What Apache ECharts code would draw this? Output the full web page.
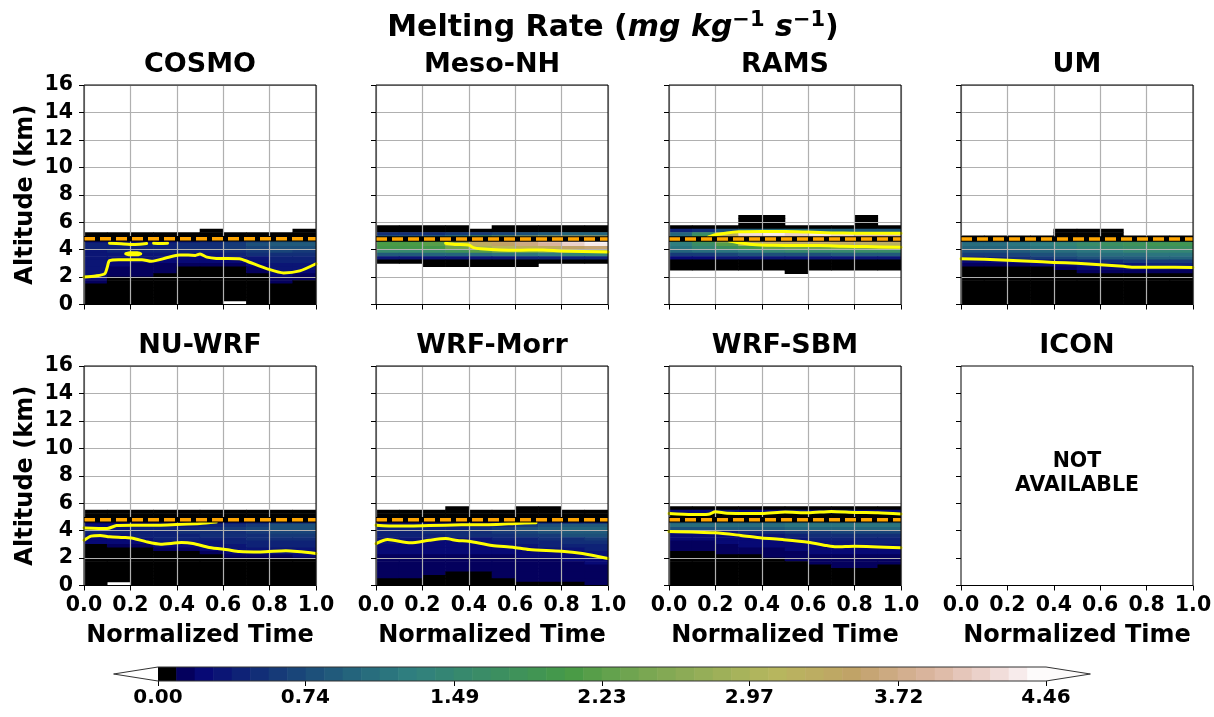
<!DOCTYPE html>
<html><head><meta charset="utf-8">
<script src="https://cdn.jsdelivr.net/npm/echarts@6/dist/echarts.min.js"></script>
<style>html,body{margin:0;padding:0;background:#fff}#c{width:1214px;height:717px}</style>
</head><body><div id="c"></div>
<script>
// ---------------- data ----------------
const models = ['COSMO','Meso-NH','RAMS','UM','NU-WRF','WRF-Morr','WRF-SBM','ICON'];
const xTickStep = 0.2, yTickStep = 2;
const cbarMax = 4.46, nLevels = 48;
const cbarTicks = [0.00, 0.74, 1.49, 2.23, 2.97, 3.72, 4.46];
const freezeLevel = [4.8, 4.78, 4.78, 4.78, 4.8, 4.8, 4.8];

// field cells: column centres (normalized time) and row bottoms (km), 0.1 x 0.25 km cells
const timeCols = [0.05,0.15,0.25,0.35,0.45,0.55,0.65,0.75,0.85,0.95];
const altRows = [6.25,6.0,5.75,5.5,5.25,5.0,4.75,4.5,4.25,4.0,3.75,3.5,3.25,3.0,2.75,2.5,2.25,2.0,1.75,1.5,1.25,1.0,0.75,0.5,0.25,0];
const cellW = 0.1, cellH = 0.25;
const N = null;
const NR = [N,N,N,N,N,N,N,N,N,N];
const ZR = [0,0,0,0,0,0,0,0,0,0];

const cosmoField = [
 NR, NR, NR, NR,
 [N,N,N,N,N,0,N,N,N,0],
 ZR, ZR,
 [0.2,0.2,0.2,0.25,0.35,0.45,0.55,0.65,0.75,0.75],
 [0.4,0.4,0.4,0.45,0.5,0.55,0.65,0.75,0.85,0.85],
 [0.4,0.4,0.45,0.45,0.5,0.55,0.6,0.7,0.8,0.8],
 [0.35,0.4,0.4,0.4,0.45,0.45,0.55,0.6,0.7,0.65],
 [0.35,0.35,0.35,0.35,0.32,0.32,0.4,0.5,0.55,0.55],
 [0.35,0.32,0.31,0.31,0.25,0.27,0.28,0.35,0.45,0.45],
 [0.32,0.25,0.22,0.22,0.2,0.2,0.22,0.3,0.4,0.4],
 [0.32,0.2,0.18,0.18,0.1,0.1,0.12,0.22,0.35,0.32],
 [0.32,0.15,0.15,0.15,0,0,0,0.12,0.33,0.3],
 [0.3,0.12,0.12,0.12,0,0,0,0.1,0.28,0.2],
 [0.32,0.1,0.1,0,0,0,0,0,0.2,0.15],
 [0.2,0,0,0,0,0,0,0,0.15,0.12],
 [0.15,0,0,0,0,0,0,0,0.1,0],
 ZR, ZR, ZR, ZR, ZR,
 [0,0,0,0,0,0,N,0,0,0]
];
const mesoField = [
 NR, NR, NR,
 [0,0,0,0,N,0,0,0,0,0],
 ZR,
 [0.5,0.5,0.5,0.6,0.6,0.7,0.8,0.9,1.0,1.0],
 [1.0,1.0,1.2,1.5,2.0,2.4,2.8,3.0,3.2,3.2],
 [2.0,2.0,2.2,2.6,3.5,3.6,3.8,4.0,4.2,4.4],
 [2.1,2.1,2.2,2.8,3.3,3.5,3.7,3.9,4.1,4.3],
 [2.0,2.0,2.0,2.4,2.9,3.1,3.2,3.3,3.5,3.6],
 [1.5,1.5,1.6,1.8,2.2,2.4,2.4,2.6,2.8,2.8],
 [0.9,0.9,1.0,1.0,1.1,1.2,1.2,1.3,1.4,1.4],
 [0.3,0.3,0.3,0.3,0.3,0.35,0.4,0.4,0.4,0.4],
 ZR,
 [N,N,0,0,0,0,0,N,N,N],
 NR, NR, NR, NR, NR, NR, NR, NR, NR, NR, NR
];
const ramsField = [
 [N,N,N,0,0,N,N,N,0,N],
 [N,N,N,0,0,N,N,N,0,N],
 [N,N,N,0,0,N,N,N,0,N],
 ZR,
 [0.4,0.5,0.8,1.0,1.1,1.1,1.0,1.0,0.9,0.9],
 [1.0,1.6,3.2,4.2,4.3,4.1,4.3,4.2,4.0,4.0],
 [1.2,2.0,3.4,4.0,4.1,4.0,4.1,4.0,3.9,3.9],
 [1.4,2.0,2.8,3.6,3.7,3.7,3.8,3.7,3.6,3.6],
 [1.3,1.6,2.2,2.9,3.3,3.3,3.3,3.3,3.2,3.2],
 [1.2,1.4,1.7,2.0,2.3,2.4,2.4,2.5,2.6,2.7],
 [1.0,1.1,1.2,1.3,1.4,1.5,1.5,1.5,1.6,1.6],
 [0.6,0.65,0.7,0.75,0.8,0.8,0.8,0.85,0.9,0.9],
 [0.25,0.25,0.3,0.3,0.3,0.3,0.3,0.35,0.35,0.35],
 ZR, ZR, ZR,
 [N,N,N,N,N,0,N,N,N,N],
 NR, NR, NR, NR, NR, NR, NR, NR, NR
];
const umField = [
 NR, NR, NR, NR,
 [N,N,N,N,0,0,0,N,N,N],
 [N,N,N,N,0,0,0,N,N,N],
 ZR,
 [0.9,0.9,1.0,1.1,1.2,1.3,1.4,1.5,1.5,1.6],
 [1.1,1.1,1.2,1.3,1.4,1.6,1.7,1.8,1.9,1.9],
 [1.0,1.0,1.1,1.2,1.3,1.4,1.5,1.6,1.7,1.7],
 [0.8,0.8,0.9,1.0,1.1,1.2,1.3,1.4,1.4,1.4],
 [0.6,0.6,0.7,0.8,0.9,1.0,1.1,1.1,1.2,1.2],
 [0.35,0.4,0.5,0.6,0.7,0.8,0.9,0.9,1.0,1.0],
 [0.2,0.22,0.25,0.3,0.35,0.4,0.5,0.6,0.65,0.65],
 [0.12,0.15,0.15,0.2,0.25,0.28,0.32,0.35,0.4,0.4],
 [0,0,0,0,0.12,0.2,0.22,0.22,0.22,0.22],
 [0,0,0,0,0,0.1,0.15,0.15,0.15,0.15],
 ZR, ZR, ZR, ZR, ZR, ZR, ZR, ZR, ZR
];
const nuwrfField = [
 NR, NR, NR, NR,
 ZR, ZR, ZR,
 [0.1,0.1,0.12,0.12,0.12,0.15,0.2,0.3,0.4,0.4],
 [0.2,0.22,0.28,0.28,0.32,0.4,0.5,0.6,0.75,0.75],
 [0.32,0.33,0.4,0.42,0.45,0.5,0.6,0.7,0.8,0.8],
 [0.4,0.42,0.45,0.45,0.48,0.5,0.55,0.65,0.7,0.7],
 [0.3,0.32,0.4,0.45,0.45,0.5,0.5,0.55,0.6,0.6],
 [0.22,0.22,0.35,0.38,0.38,0.4,0.45,0.5,0.55,0.55],
 [0.2,0.2,0.25,0.3,0.3,0.35,0.4,0.45,0.45,0.45],
 [0,0.1,0.15,0.2,0.2,0.28,0.35,0.38,0.4,0.38],
 [0,0,0,0.1,0.12,0.2,0.28,0.33,0.33,0.33],
 [0,0,0,0,0,0.1,0.2,0.28,0.28,0.3],
 [0,0,0,0,0,0,0.1,0.15,0.18,0.2],
 ZR, ZR, ZR, ZR, ZR, ZR, ZR,
 [0,N,0,0,0,0,0,0,0,0]
];
const morrField = [
 NR, NR, NR,
 [N,N,N,0,N,N,0,0,N,N],
 ZR, ZR, ZR,
 [0.12,0.12,0.12,0.12,0.15,0.2,0.25,0.3,0.35,0.35],
 [0.3,0.3,0.3,0.32,0.35,0.45,0.6,0.8,0.9,0.9],
 [0.4,0.4,0.42,0.45,0.5,0.6,0.75,0.9,1.0,1.0],
 [0.45,0.45,0.48,0.5,0.55,0.6,0.7,0.8,0.9,0.9],
 [0.4,0.45,0.45,0.5,0.5,0.55,0.6,0.65,0.75,0.75],
 [0.33,0.35,0.32,0.29,0.34,0.4,0.45,0.5,0.55,0.6],
 [0.28,0.27,0.25,0.23,0.28,0.35,0.4,0.45,0.5,0.5],
 [0.22,0.22,0.2,0.2,0.22,0.28,0.33,0.4,0.42,0.45],
 [0.2,0.2,0.2,0.2,0.2,0.22,0.25,0.3,0.33,0.4],
 [0.2,0.2,0.2,0.2,0.2,0.2,0.22,0.22,0.25,0.32],
 [0.18,0.18,0.18,0.18,0.18,0.18,0.2,0.2,0.22,0.28],
 [0.16,0.16,0.16,0.16,0.16,0.16,0.18,0.18,0.2,0.22],
 [0.15,0.15,0.15,0.15,0.15,0.15,0.16,0.16,0.18,0.2],
 [0.15,0.15,0.15,0.15,0.15,0.15,0.15,0.15,0.16,0.18],
 [0.15,0.15,0.15,0.12,0.15,0.15,0.15,0.15,0.15,0.15],
 [0.15,0.15,0.12,0,0,0.15,0.15,0.15,0.15,0.15],
 [0.12,0.12,0,0,0,0.1,0.15,0.15,0.15,0.15],
 [0,0,0,0,0,0,0.1,0.12,0.12,0.12],
 [0,0,0,0,0,0,0,0,0,0.1]
];
const sbmField = [
 NR, NR, NR,
 ZR,
 [0.2,0.2,0.28,0.22,0.22,0.28,0.25,0.3,0.22,0.2],
 [0.05,0.05,0.05,0.05,0.05,0.05,0.05,0.05,0.05,0.05],
 [0.05,0.05,0.05,0.05,0.05,0.05,0.05,0.05,0.05,0.05],
 [0.9,0.9,0.9,0.9,0.9,1.0,1.0,1.0,1.0,1.0],
 [1.1,1.1,1.1,1.1,1.1,1.2,1.2,1.2,1.2,1.2],
 [0.8,0.8,0.85,0.9,0.9,1.0,1.0,1.0,1.0,1.0],
 [0.3,0.3,0.35,0.5,0.55,0.6,0.65,0.7,0.7,0.7],
 [0.22,0.22,0.25,0.3,0.35,0.45,0.5,0.55,0.55,0.55],
 [0.2,0.2,0.22,0.25,0.28,0.32,0.38,0.45,0.45,0.45],
 [0.18,0.18,0.2,0.22,0.22,0.25,0.3,0.36,0.4,0.4],
 [0.15,0.15,0.18,0.2,0.2,0.22,0.25,0.3,0.3,0.32],
 [0.1,0.12,0.15,0.15,0.18,0.2,0.22,0.25,0.25,0.25],
 [0,0,0.1,0.1,0.15,0.18,0.2,0.2,0.2,0.2],
 [0,0,0,0,0.1,0.15,0.18,0.18,0.18,0.18],
 [0,0,0,0,0,0.1,0.15,0.15,0.15,0.15],
 [0,0,0,0,0,0,0.1,0.15,0.12,0.12],
 [0,0,0,0,0,0,0,0.1,0.1,0],
 ZR, ZR, ZR, ZR, ZR
];

// yellow contour lines [time, km]
const cosmoLine = [[0,2.0],[0.05,2.08],[0.09,2.25],[0.1,2.7],[0.11,3.2],[0.15,3.27],[0.25,3.27],[0.29,3.15],[0.36,3.42],[0.41,3.6],[0.45,3.6],[0.48,3.58],[0.5,3.68],[0.53,3.45],[0.57,3.36],[0.67,3.34],[0.71,3.1],[0.79,2.6],[0.86,2.3],[0.93,2.45],[1.0,2.97]];
const cosmoLoop = [[0.18,3.7],[0.2,3.78],[0.23,3.78],[0.245,3.7],[0.23,3.62],[0.2,3.62],[0.18,3.7]];
const cosmoTopA = [[0.11,4.47],[0.16,4.42],[0.2,4.38],[0.24,4.4],[0.27,4.45]];
const cosmoTopB = [[0.3,4.47],[0.33,4.44],[0.36,4.47]];
const mesoLine = [[0.3,4.47],[0.34,4.38],[0.4,4.33],[0.42,4.15],[0.45,4.06],[0.6,3.95],[0.72,3.98],[0.8,3.9],[1.0,3.83]];
const ramsUpper = [[0.17,4.92],[0.2,5.08],[0.25,5.22],[0.3,5.3],[0.4,5.33],[0.5,5.33],[0.6,5.28],[0.7,5.22],[0.8,5.2],[0.9,5.2],[1.0,5.2]];
const ramsLower = [[0.26,4.62],[0.3,4.5],[0.36,4.38],[0.45,4.32],[0.55,4.3],[0.65,4.3],[0.75,4.25],[0.85,4.22],[1.0,4.17]];
const umLine = [[0,3.34],[0.1,3.3],[0.2,3.22],[0.3,3.16],[0.4,3.07],[0.5,3.0],[0.6,2.9],[0.7,2.78],[0.75,2.72],[0.85,2.72],[1.0,2.7]];
const nuUpper = [[0,4.2],[0.1,4.15],[0.14,4.37],[0.21,4.4],[0.32,4.4],[0.4,4.45],[0.5,4.52],[0.57,4.62]];
const nuLower = [[0,3.3],[0.03,3.6],[0.07,3.65],[0.11,3.55],[0.17,3.5],[0.21,3.45],[0.27,3.18],[0.33,3.01],[0.42,3.13],[0.47,3.06],[0.54,2.77],[0.62,2.6],[0.67,2.48],[0.76,2.45],[0.87,2.53],[1.0,2.33]];
const morrUpper = [[0,4.4],[0.09,4.33],[0.23,4.37],[0.37,4.42],[0.52,4.45],[0.6,4.52],[0.69,4.58]];
const morrLower = [[0,3.06],[0.05,3.35],[0.15,3.11],[0.23,3.3],[0.3,3.42],[0.35,3.28],[0.4,3.23],[0.5,2.91],[0.59,2.79],[0.66,2.62],[0.8,2.5],[0.89,2.33],[1.0,1.97]];
const sbmUpper = [[0,5.25],[0.1,5.17],[0.17,5.2],[0.2,5.37],[0.25,5.27],[0.4,5.25],[0.5,5.35],[0.6,5.3],[0.7,5.4],[0.8,5.33],[0.9,5.3],[1.0,5.22]];
const sbmLower = [[0,3.94],[0.2,3.84],[0.31,3.65],[0.4,3.47],[0.49,3.35],[0.6,3.16],[0.68,2.91],[0.72,2.82],[0.8,2.87],[1.0,2.75]];

const fields = [cosmoField, mesoField, ramsField, umField, nuwrfField, morrField, sbmField, null];
const contours = [[cosmoLine, cosmoLoop, cosmoTopA, cosmoTopB], [mesoLine], [ramsUpper, ramsLower], [umLine], [nuUpper, nuLower], [morrUpper, morrLower], [sbmUpper, sbmLower], []];

// ---------------- colormap (gist_earth) ----------------
const GE = {
 r: [[0,0],[0.2824,0.1882],[0.4588,0.2714],[0.5490,0.4719],[0.6980,0.7176],[0.7882,0.7553],[1,0.9922]],
 g: [[0,0],[0.0275,0],[0.1098,0.1893],[0.1647,0.3035],[0.2078,0.3841],[0.2824,0.5020],[0.5216,0.6397],[0.6980,0.7171],[0.7882,0.6392],[0.7922,0.6413],[0.8,0.6447],[0.8078,0.6481],[0.8157,0.6549],[0.8667,0.6991],[0.8745,0.7103],[0.8824,0.7216],[0.8902,0.7323],[0.8980,0.7430],[0.9412,0.8275],[0.9569,0.8635],[0.9647,0.8816],[0.9961,0.9733],[1,0.9843]],
 b: [[0,0],[0.0039,0.1684],[0.0078,0.2212],[0.0275,0.4329],[0.0314,0.4549],[0.2824,0.5004],[0.4667,0.2748],[0.5451,0.3205],[0.7843,0.3961],[0.8941,0.6651],[1,0.9843]]
};
function geChan(s, x){ for (let i=1;i<s.length;i++){ if (x<=s[i][0]){ const a=s[i-1], b=s[i]; const f=(x-a[0])/((b[0]-a[0])||1); return a[1]+f*(b[1]-a[1]); } } return s[s.length-1][1]; }
function gistEarth(x){ return 'rgb('+Math.round(geChan(GE.r,x)*255)+','+Math.round(geChan(GE.g,x)*255)+','+Math.round(geChan(GE.b,x)*255)+')'; }
const binColors = []; for (let i=0;i<nLevels;i++) binColors.push(gistEarth(i/(nLevels-1)));
const binW = cbarMax/nLevels;
function colorOf(v){ if (v<0) return '#ffffff'; let i=Math.floor(v/binW+1e-9); if (i>=nLevels) i=nLevels-1; return binColors[i]; }

// ---------------- layout ----------------
const FONT = 'DejaVu Sans';
const colLeft = [84, 376, 669, 961];
const rowTop = [85, 366];
const panelW = 232, panelH = 219.5;
const tickFont = {fontFamily: FONT, fontWeight: 'bold', fontSize: 20.5, color: '#000'};

function cellsOf(field){ const out=[]; field.forEach((row,ri)=>row.forEach((v,ci)=>{ if (v!==null) out.push([timeCols[ci], altRows[ri], v]); })); return out; }
function renderCell(params, api){
  const t=api.value(0), z=api.value(1), v=api.value(2);
  const a=api.coord([t-cellW/2, z]), b=api.coord([t+cellW/2, z+cellH]);
  return {type:'rect', shape:{x:a[0]-0.3, y:b[1]-0.3, width:b[0]-a[0]+0.6, height:a[1]-b[1]+0.6}, style:{fill:colorOf(v)}};
}

const grid=[], xAxis=[], yAxis=[], series=[], graphic=[];
models.forEach((m,p)=>{
  const r=Math.floor(p/4), c=p%4;
  grid.push({left:colLeft[c], top:rowTop[r], width:panelW, height:panelH, show:true, borderColor:'#000', borderWidth:1, backgroundColor:'transparent', z:10, containLabel:false, outerBoundsMode:'none'});
  xAxis.push({gridIndex:p, type:'value', min:0, max:1, interval:xTickStep, z:3,
    axisLine:{show:false}, axisTick:{show:true, length:5, lineStyle:{color:'#000', width:1}},
    axisLabel:{show:r===1, margin:10, formatter:v=>v.toFixed(1), ...tickFont, showMinLabel:true, showMaxLabel:true},
    splitLine:{show:p!==7, lineStyle:{color:'#b0b0b0', width:1.2}},
    name:r===1?'Normalized Time':'', nameLocation:'middle', nameGap:38,
    nameTextStyle:{fontFamily:FONT, fontWeight:'bold', fontSize:24, color:'#000'}});
  yAxis.push({gridIndex:p, type:'value', min:0, max:16, interval:yTickStep, z:3,
    axisLine:{show:false}, axisTick:{show:true, length:5, lineStyle:{color:'#000', width:1}},
    axisLabel:{show:c===0, margin:11, ...tickFont},
    splitLine:{show:p!==7, lineStyle:{color:'#b0b0b0', width:1.2}},
    name:c===0?'Altitude (km)':'', nameLocation:'middle', nameGap:46, nameRotate:90,
    nameTextStyle:{fontFamily:FONT, fontWeight:'bold', fontSize:24, color:'#000'}});
  graphic.push({type:'text', x:colLeft[c]+panelW/2, y:r===0?65:346, z:20,
    style:{text:m, align:'center', verticalAlign:'middle', fontFamily:FONT, fontWeight:'bold', fontSize:27, fill:'#000'}});
  if (fields[p]) {
    series.push({type:'custom', xAxisIndex:p, yAxisIndex:p, data:cellsOf(fields[p]), renderItem:renderCell, clip:true, z:1, silent:true, encode:{x:0, y:1}});
    contours[p].forEach(line=>series.push({type:'line', xAxisIndex:p, yAxisIndex:p, data:line, showSymbol:false, smooth:0.25, z:4, silent:true,
      lineStyle:{color:'#ffff00', width:3, join:'round', cap:'round'}}));
    const f=freezeLevel[p];
    series.push({type:'line', xAxisIndex:p, yAxisIndex:p, data:[[0,f],[1,f]], showSymbol:false, z:5, silent:true, lineStyle:{color:'#000', width:5.5, cap:'butt'}});
    series.push({type:'line', xAxisIndex:p, yAxisIndex:p, data:[[0,f],[1,f]], showSymbol:false, z:6, silent:true, lineStyle:{color:'#ffa500', width:3.5, type:[11,5], cap:'butt'}});
  }
});
// ICON not available note
graphic.push({type:'text', x:colLeft[3]+panelW/2, y:474, z:20,
  style:{text:'NOT\nAVAILABLE', align:'center', verticalAlign:'middle', lineHeight:24, fontFamily:FONT, fontWeight:'bold', fontSize:20.5, fill:'#000'}});
// main title
graphic.push({type:'text', x:613, y:28, z:20,
  style:{text:'{b|Melting Rate (}{i|mg kg}{s|\u22121}{i| s}{s|\u22121}{b|)}', align:'center', verticalAlign:'middle',
    rich:{
      b:{fontFamily:FONT, fontWeight:'bold', fontSize:30, lineHeight:36, fill:'#000', verticalAlign:'middle'},
      i:{fontFamily:FONT, fontWeight:'bold', fontStyle:'italic', fontSize:30, lineHeight:36, fill:'#000', verticalAlign:'middle'},
      s:{fontFamily:FONT, fontWeight:'bold', fontSize:21, lineHeight:22, fill:'#000', verticalAlign:'top'}}}});

// colorbar
const cb = 8;
grid.push({left:158, top:667, width:888, height:14, show:false, containLabel:false, outerBoundsMode:'none'});
xAxis.push({gridIndex:cb, type:'value', min:0, max:cbarMax, interval:cbarMax/6,
  axisLine:{show:false}, splitLine:{show:false},
  axisTick:{show:true, length:5, lineStyle:{color:'#000', width:1}, customValues:cbarTicks},
  axisLabel:{show:true, margin:7, customValues:cbarTicks, formatter:v=>v.toFixed(2), fontFamily:FONT, fontWeight:'bold', fontSize:20, color:'#000', showMaxLabel:true}});
yAxis.push({gridIndex:cb, type:'value', min:0, max:1, show:false});
const cbarBins = binColors.map((col,i)=>[i*binW, (i+1)*binW, i]);
series.push({type:'custom', xAxisIndex:cb, yAxisIndex:cb, data:cbarBins, encode:{x:[0,1]}, silent:true, z:2,
  renderItem:(params, api)=>{ const a=api.coord([api.value(0),0]), b=api.coord([api.value(1),1]);
    return {type:'rect', shape:{x:a[0]-0.3, y:b[1], width:b[0]-a[0]+0.6, height:a[1]-b[1]}, style:{fill:binColors[api.value(2)]}}; }});
series.push({type:'custom', xAxisIndex:cb, yAxisIndex:cb, data:[[0, cbarMax]], encode:{x:[0,1]}, silent:true, z:3,
  renderItem:(params, api)=>{ const ext=0.05*cbarMax;
    const tl=api.coord([0,1]), bl=api.coord([0,0]), tr=api.coord([cbarMax,1]), br=api.coord([cbarMax,0]);
    const tipL=api.coord([-ext,0.5]), tipR=api.coord([cbarMax+ext,0.5]);
    return {type:'group', children:[
      {type:'polygon', shape:{points:[tipL,tl,bl]}, style:{fill:'#ffffff'}},
      {type:'polygon', shape:{points:[tipR,tr,br]}, style:{fill:binColors[nLevels-1]}},
      {type:'polygon', shape:{points:[tipL,tl,tr,tipR,br,bl]}, style:{fill:'none', stroke:'#333', lineWidth:1}}
    ]}; }});

const chart = echarts.init(document.getElementById('c'), null, {renderer:'canvas'});
chart.setOption({animation:false, backgroundColor:'#fff', grid, xAxis, yAxis, series, graphic});
</script></body></html>
